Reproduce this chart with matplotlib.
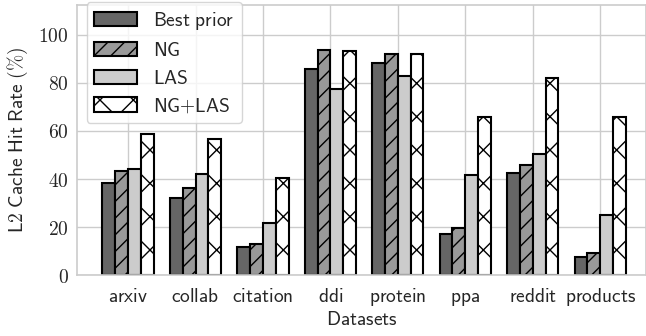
import matplotlib
matplotlib.use("Agg")
import matplotlib.pyplot as plt
import numpy as np

plt.rcParams['mathtext.fontset'] = 'cm'
plt.rcParams['hatch.linewidth'] = 1.0

categories = ["arxiv", "collab", "citation", "ddi", "protein", "ppa", "reddit", "products"]
series_names = ["Best prior", "NG", "LAS", "NG+LAS"]
best_prior = [38.2, 32.0, 11.6, 85.7, 88.4, 17.3, 42.5, 7.5]
ng = [43.5, 36.2, 13.1, 93.6, 91.8, 19.7, 46.0, 9.3]
las = [44.3, 42.2, 21.6, 77.4, 82.8, 41.6, 50.5, 24.9]
ng_las = [58.6, 56.8, 40.6, 93.2, 92.1, 65.7, 81.9, 65.9]
yticks = [0, 20, 40, 60, 80, 100]

series = [best_prior, ng, las, ng_las]
colors = ["#666666", "#999999", "#cccccc", "#ffffff"]
hatches = [None, "//", None, "x"]


def sf(s):
    return r"$\mathsf{" + s.replace(" ", r"\ ").replace("+", "{+}").replace("%", r"\%") + "}$"


fs = 14
fig = plt.figure(figsize=(6.46, 3.36), dpi=100)
ax = fig.add_axes([0.119, 0.181, 0.881, 0.805])
ax.set_axisbelow(True)
ax.grid(True, color="#cccccc", linewidth=1.0)
for s in ax.spines.values():
    s.set_color("#cccccc")
    s.set_linewidth(1.2)

x = np.arange(len(categories))
w = 0.19
for i, (vals, c, h, name) in enumerate(zip(series, colors, hatches, series_names)):
    ax.bar(x + (i - 1.5) * w, vals, w, color=c, edgecolor="black", linewidth=1.5,
           hatch=h, label=sf(name))

ax.set_xlim(-0.76, 7.68)
ax.set_ylim(0, 112.5)
ax.set_xticks(x)
ax.set_xticklabels([sf(c) for c in categories], fontsize=fs)
for t in ax.get_xticklabels():
    t.set_verticalalignment("baseline")
ax.set_yticks(yticks)
ax.set_yticklabels([r"$%d$" % v for v in yticks], fontsize=fs)
ax.tick_params(axis="both", length=0, colors="#262626")
ax.tick_params(axis="x", pad=19)
ax.tick_params(axis="y", pad=6)
ax.set_xlabel(sf("Datasets"), fontsize=fs, color="#262626", labelpad=2)
ax.set_ylabel(sf("L2 Cache Hit Rate (%)"), fontsize=fs, color="#262626", labelpad=6)

leg = ax.legend(loc="upper left", bbox_to_anchor=(0.0, 1.045), fontsize=fs,
                handlelength=2.2, handleheight=0.75, handletextpad=0.8,
                labelspacing=0.45, borderpad=0.4, borderaxespad=0.5,
                frameon=True, fancybox=True, framealpha=0.8, edgecolor="#cccccc")
for t in leg.get_texts():
    t.set_color("#262626")

fig.savefig("out.png", dpi=100)
